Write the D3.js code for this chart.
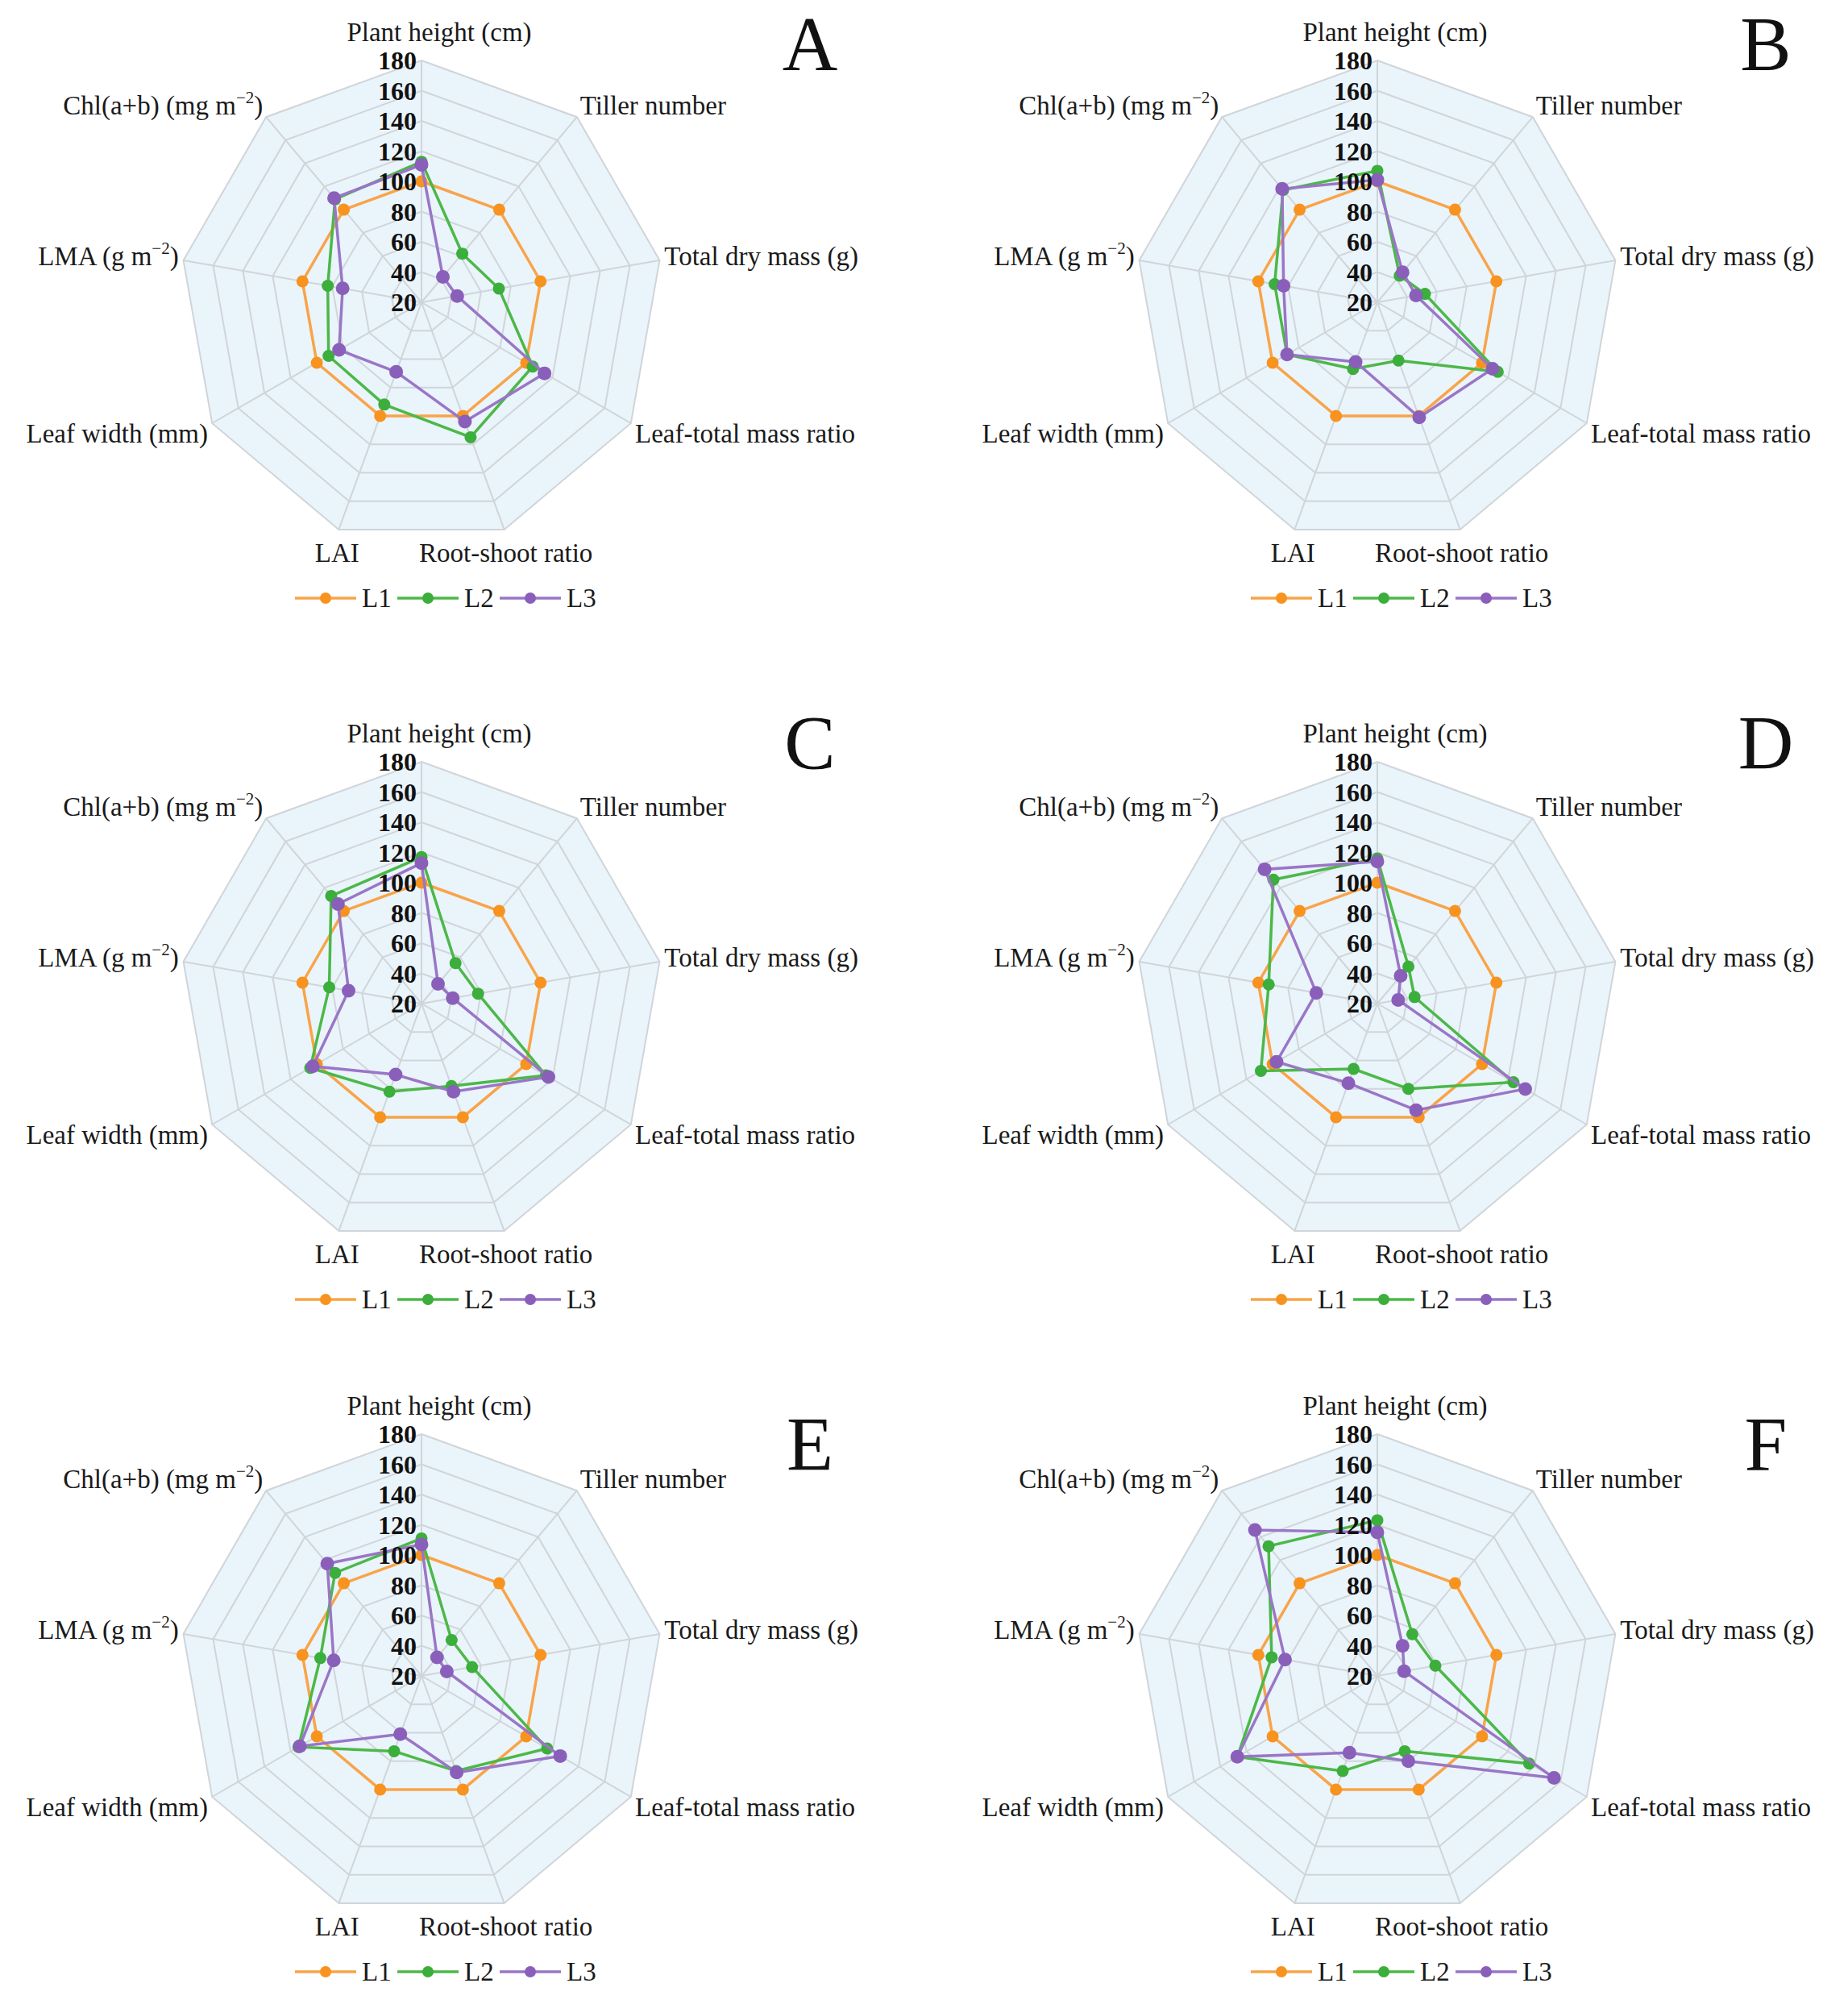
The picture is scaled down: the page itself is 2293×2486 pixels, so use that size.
<!DOCTYPE html>
<html>
<head>
<meta charset="utf-8">
<script src="https://cdn.jsdelivr.net/npm/d3@7"></script>
<style>
  body { margin: 0; background: #fff; }
  text { font-family: "Liberation Serif", "Times New Roman", serif; }
</style>
</head>
<body>
<svg id="chart" width="2293" height="2486"></svg>
<script>
// axis names, clockwise from the top; ^...^ marks a superscript
const indicators = ["Plant height (cm)", "Tiller number", "Total dry mass (g)", "Leaf-total mass ratio",
  "Root-shoot ratio", "LAI", "Leaf width (mm)", "LMA (g m^\u22122^)", "Chl(a+b) (mg m^\u22122^)"];
const ticks = [20, 40, 60, 80, 100, 120, 140, 160, 180];
const seriesNames = ["L1", "L2", "L3"];
const panels = ["A", "B", "C", "D", "E", "F"];

// values, same order as indicators
const L1 = {
  A: [100, 100, 100, 100, 100, 100, 100, 100, 100],
  B: [100, 100, 100, 100, 100, 100, 100, 100, 100],
  C: [100, 100, 100, 100, 100, 100, 100, 100, 100],
  D: [100, 100, 100, 100, 100, 100, 100, 100, 100],
  E: [100, 100, 100, 100, 100, 100, 100, 100, 100],
  F: [100, 100, 100, 100, 100, 100, 100, 100, 100]
};
const L2 = {
  A: [113, 62, 72, 105, 115, 92, 91, 83, 109],
  B: [107, 43, 52, 112, 61, 67, 89, 89, 117],
  C: [117, 55, 58, 115, 78, 82, 105, 82, 113],
  D: [116, 52, 45, 124, 80, 66, 109, 93, 127],
  E: [111, 51, 54, 116, 87, 73, 114, 88, 109],
  F: [123, 56, 59, 136, 73, 87, 127, 91, 132]
};
const L3 = {
  A: [111, 42, 44, 114, 104, 69, 83, 73, 110],
  B: [101, 46, 46, 108, 101, 62, 89, 83, 118],
  C: [113, 37, 41, 117, 82, 70, 103, 69, 106],
  D: [114, 44, 34, 133, 95, 76, 97, 61, 136],
  E: [107, 36, 37, 126, 88, 61, 113, 79, 117],
  F: [115, 46, 38, 155, 80, 74, 127, 82, 146]
};
const seriesData = [L1, L2, L3];

// layout
const colX = [523, 1709];
const rowY = [375, 1245, 2079];
const letterDy = [-288, -291, -255];
const R = 300;
const lineColors = ["#f8a449", "#4cb848", "#9a76c6"];
const dotColors = ["#f7931e", "#3bae3c", "#8a5fba"];
const dotR = [7.5, 7.5, 8.5];
const gridColor = "#d0d5d9";

const svg = d3.select("#chart");
const n = indicators.length;
const step = 2 * Math.PI / n;
const r = d3.scaleLinear().domain([20, 180]).range([0, R]);
const ring = d3.lineRadial().angle((d, i) => i * step).radius(d => d).curve(d3.curveLinearClosed);
const poly = d3.lineRadial().angle((d, i) => i * step).radius(d => r(d)).curve(d3.curveLinearClosed);

function addLabel(g, str) {
  const parts = str.split("^");
  parts.forEach((p, k) => {
    if (!p) return;
    const t = g.append("tspan").text(p);
    if (k % 2 === 1) {
      t.attr("font-size", 21).attr("dy", -14);
    } else if (k > 0) {
      t.attr("dy", 14);
    }
  });
}

panels.forEach((p, pi) => {
  const cx = colX[pi % 2], cy = rowY[Math.floor(pi / 2)];
  const g = svg.append("g").attr("transform", `translate(${cx},${cy})`);

  // background + rings
  g.append("path").attr("d", ring(d3.range(n).map(() => R)))
    .attr("fill", "#eaf4fb").attr("stroke", "none");
  ticks.slice(1).forEach(t => {
    g.append("path").attr("d", ring(d3.range(n).map(() => r(t))))
      .attr("fill", "none").attr("stroke", gridColor).attr("stroke-width", 2);
  });
  // spokes
  d3.range(n).forEach(i => {
    const a = i * step;
    g.append("line").attr("x1", 0).attr("y1", 0)
      .attr("x2", R * Math.sin(a)).attr("y2", -R * Math.cos(a))
      .attr("stroke", gridColor).attr("stroke-width", 2);
  });

  // axis names
  indicators.forEach((name, i) => {
    const a = i * step, s = Math.sin(a), c = Math.cos(a);
    let x = (R + 6) * s, y = -(R + 6) * c;
    let anchor = Math.abs(s) < 0.05 ? "middle" : (s > 0 ? "start" : "end");
    if (i === 0) { x += 22; y -= 29; }
    else if (Math.abs(s) < 0.5) { anchor = "middle"; y += 23; }
    else if (c > 0.3) y -= 10;
    else if (c < -0.3) y += 10;
    else y -= 4;
    const t = g.append("text").attr("x", x).attr("y", y + 11)
      .attr("text-anchor", anchor).attr("font-size", 33).attr("fill", "#1a1a1a");
    addLabel(t, name);
  });

  // series
  seriesData.forEach((sd, si) => {
    const vals = sd[p];
    g.append("path").attr("d", poly(vals))
      .attr("fill", "none").attr("stroke", lineColors[si]).attr("stroke-width", 3.5);
    g.selectAll(null).data(vals).enter().append("circle")
      .attr("cx", (d, i) => r(d) * Math.sin(i * step))
      .attr("cy", (d, i) => -r(d) * Math.cos(i * step))
      .attr("r", dotR[si]).attr("fill", dotColors[si]);
  });

  // tick labels on the top axis
  g.selectAll(null).data(ticks).enter().append("text")
    .attr("x", -6).attr("y", d => -r(d) + 11)
    .attr("text-anchor", "end").attr("font-size", 32).attr("font-weight", "bold")
    .attr("fill", "#111").text(d => d);

  // legend
  const lg = g.append("g").attr("transform", `translate(${-157},${367})`);
  seriesNames.forEach((s, si) => {
    const x0 = si * 127;
    lg.append("line").attr("x1", x0).attr("x2", x0 + 76).attr("y1", 0).attr("y2", 0)
      .attr("stroke", lineColors[si]).attr("stroke-width", 3.5);
    lg.append("circle").attr("cx", x0 + 38).attr("cy", 0).attr("r", 7).attr("fill", dotColors[si]);
    lg.append("text").attr("x", x0 + 83).attr("y", 11).attr("font-size", 33)
      .attr("fill", "#1a1a1a").text(s);
  });

  // panel letter
  g.append("text").attr("x", 482).attr("y", letterDy[Math.floor(pi / 2)])
    .attr("text-anchor", "middle").attr("font-size", 95).attr("fill", "#111").text(p);
});
</script>
</body>
</html>
